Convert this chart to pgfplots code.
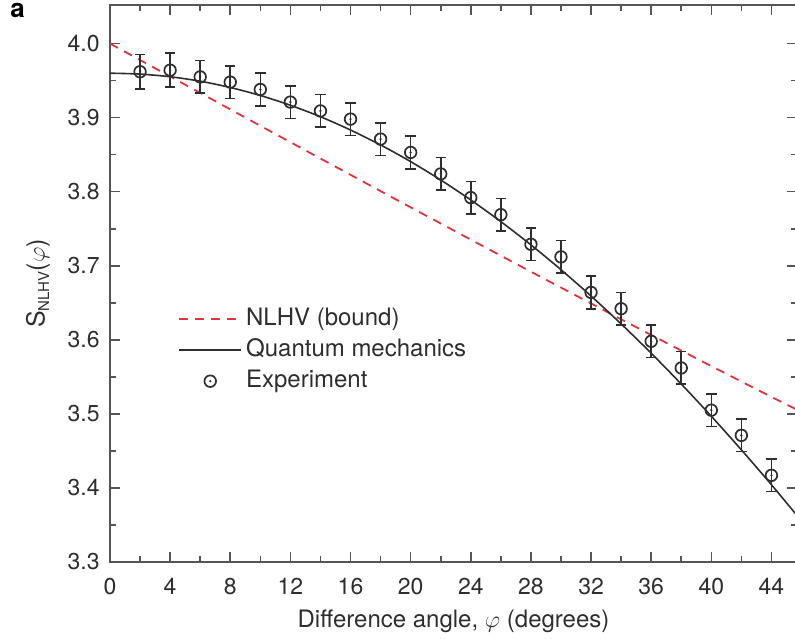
\documentclass[border=0pt]{standalone}
\usepackage{pgfplots}
\pgfplotsset{compat=1.18}
\usepackage{fontspec}
\setmainfont{TeX Gyre Heros}

\definecolor{axisgray}{HTML}{555555}
\definecolor{txtgray}{HTML}{2E2E2E}
\definecolor{nlhvred}{HTML}{E2333C}

% open circle with a dot in the middle
\pgfdeclareplotmark{circdot}{%
  \pgfpathcircle{\pgfpointorigin}{\pgfplotmarksize}\pgfusepathqstroke
  \pgfpathcircle{\pgfpointorigin}{0.22\pgfplotmarksize}\pgfusepathqfill}

\pgfplotstableread{
x y e
2 3.962 0.023
4 3.964 0.023
6 3.955 0.022
8 3.948 0.022
10 3.938 0.022
12 3.921 0.022
14 3.909 0.022
16 3.898 0.022
18 3.871 0.022
20 3.853 0.022
22 3.824 0.022
24 3.792 0.022
26 3.769 0.022
28 3.729 0.022
30 3.712 0.022
32 3.664 0.022
34 3.642 0.022
36 3.598 0.022
38 3.562 0.022
40 3.505 0.022
42 3.471 0.022
44 3.417 0.022
}\experiment

\begin{document}
\begin{tikzpicture}
\begin{axis}[
    at={(0,0)}, anchor=south west,
    width=343.5bp, height=278.35bp, scale only axis,
    xmin=0, xmax=45.7, ymin=3.3, ymax=4.0517,
    xtick={0,4,8,12,16,20,24,28,32,36,40,44},
    ytick={3.3,3.4,3.5,3.6,3.7,3.8,3.9,4.0},
    minor x tick num=1, minor y tick num=1,
    xtick pos=both, ytick pos=both,
    xticklabel pos=lower, yticklabel pos=left,
    tick align=inside,
    major tick length=5bp, minor tick length=3bp,
    axis line style={axisgray, line width=1bp},
    every tick/.append style={axisgray, line width=0.8bp},
    every minor tick/.append style={axisgray, line width=0.8bp},
    /pgf/number format/assume math mode=true,
    tick label style={font=\fontsize{11.5bp}{13bp}\selectfont, text=txtgray},
    yticklabel style={/pgf/number format/fixed, /pgf/number format/fixed zerofill,
      /pgf/number format/precision=1, anchor=east, inner sep=0pt, xshift=-5bp},
    xticklabel style={anchor=base, inner sep=0pt, yshift=-16bp},
    xlabel={Difference angle, $\varphi$ (degrees)},
    xlabel style={at={(axis description cs:0.5,0)}, anchor=base, yshift=-32.5bp,
      font=\fontsize{12bp}{14bp}\selectfont, text=txtgray},
    ylabel={S\raisebox{-0.35ex}{\fontsize{7.5bp}{8bp}\selectfont NLHV}($\varphi$)},
    ylabel style={at={(axis description cs:-0.105,0.5)}, anchor=center,
      font=\fontsize{12.5bp}{14bp}\selectfont, text=txtgray},
    legend style={at={(axis cs:4.52,3.586)}, anchor=west, draw=none, fill=none,
      inner sep=0pt, font=\fontsize{12bp}{14bp}\selectfont, text=txtgray,
      row sep=0pt,
      nodes={inner sep=2bp, text height=9bp, text depth=2.5bp}},
    legend cell align=left,
    legend image code/.code={%
      \draw[mark repeat=2,mark phase=2,#1] plot coordinates {(0bp,0bp) (15.5bp,0bp) (31bp,0bp)};},
  ]
\addplot[nlhvred, line width=0.9bp, dash pattern=on 4.5bp off 3.5bp, smooth] coordinates {
(0,4.0000) (2,3.9778) (4,3.9556) (6,3.9334) (8,3.9112) (10,3.8890)
(12,3.8669) (14,3.8448) (16,3.8228) (18,3.8008) (20,3.7789) (22,3.7571)
(24,3.7353) (26,3.7136) (28,3.6920) (30,3.6705) (32,3.6491) (34,3.6277)
(36,3.6066) (38,3.5855) (40,3.5645) (42,3.5437) (44,3.5230) (46,3.5025)};
\addlegendentry{NLHV (bound)}
\addplot[txtgray, line width=0.8bp, smooth] coordinates {
(0,3.9600) (2,3.9588) (4,3.9552) (6,3.9492) (8,3.9407) (10,3.9299)
(12,3.9167) (14,3.9012) (16,3.8833) (18,3.8631) (20,3.8406) (22,3.8158)
(24,3.7888) (26,3.7596) (28,3.7282) (30,3.6947) (32,3.6591) (34,3.6215)
(36,3.5819) (38,3.5403) (40,3.4968) (42,3.4514) (44,3.4043) (46,3.3554)};
\addlegendentry{Quantum mechanics}
\addplot[txtgray, only marks, mark=circdot, mark size=2.9bp,
    mark options={line width=0.85bp},
    error bars/.cd, y dir=both, y explicit,
    error bar style={line width=0.8bp, txtgray},
    error mark options={rotate=90, mark size=2.6bp, line width=0.8bp, txtgray}]
  table[x=x, y=y, y error=e] {\experiment};
\addlegendentry{Experiment}
\end{axis}
\node[anchor=north west, inner sep=0pt, text=black,
  font=\bfseries\fontsize{13bp}{13bp}\selectfont] at (-50bp,279.5bp) {a};
\pgfresetboundingbox
\useasboundingbox (-55bp,-38.5bp) rectangle (342.5bp,281bp);
\end{tikzpicture}
\end{document}
